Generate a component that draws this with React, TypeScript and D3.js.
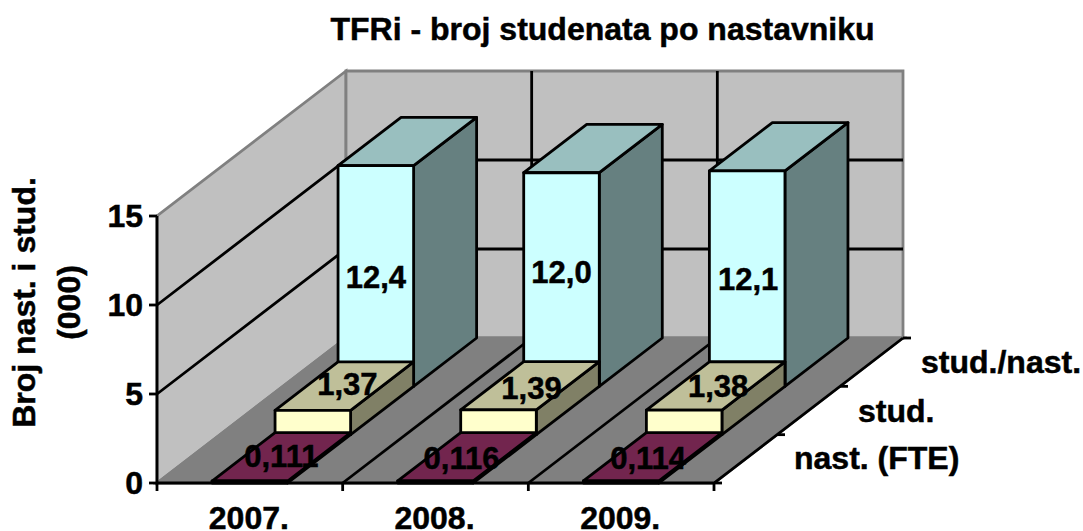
import React from "react";
import * as d3 from "d3";

const title = "TFRi - broj studenata po nastavniku";
const years = ["2007.", "2008.", "2009."];
const rows = ["nast. (FTE)", "stud.", "stud./nast."];
const nast = [0.111, 0.116, 0.114];
const stud = [1.37, 1.39, 1.38];
const ratio = [12.4, 12.0, 12.1];
const nastLabels = ["0,111", "0,116", "0,114"];
const studLabels = ["1,37", "1,39", "1,38"];
const ratioLabels = ["12,4", "12,0", "12,1"];
const yTicks = [0, 5, 10, 15];
const yTitle = ["Broj nast. i stud.", "(000)"];

const seriesVals = [nast, stud, ratio];
const seriesLabels = [nastLabels, studLabels, ratioLabels];
const palette = [
  { front: "#660033", top: "#72254e", side: "#4d0026" },
  { front: "#FFFFCC", top: "#BFBF99", side: "#808066" },
  { front: "#CCFFFF", top: "#99BFBF", side: "#668080" },
];
// label placement relative to the base-centre of each bar's front face
const labelShiftX = [[31.5, 26, 27], [34.5, 33, 34], [0, 0, 1]];
const labelShiftY = [[-16, -14, -14], [-40, -36, -38], [-98, -103, -96]];
const rowLabelX = [794, 858, 921];
const rowLabelY = [469, 422, 373];

const FONT = "'Liberation Sans', Arial, sans-serif";
const SW = 2.8;
const heavy = { stroke: "#000", strokeWidth: 0.5 };

const x0 = 157, x1 = 714, y0 = 483, y1 = 216;
const dx = 189, dy = -145;
const xScale = d3.scaleBand<string>().domain(years).range([x0, x1]).paddingInner(0.593).paddingOuter(0.2965);
const catScale = d3.scalePoint<string>().domain(years.concat("end")).range([x0, x1]);
const yScale = d3.scaleLinear().domain([0, 15]).range([y0, y1]);
const zScale = d3.scaleBand<string>().domain(rows).range([0, 1]);

const pt = (x: number, v: number, z: number): [number, number] => [x + z * dx, yScale(v) + z * dy];
const poly = (ps: [number, number][]) => ps.map((p) => p.join(",")).join(" ");

export default function App() {
  const bw = xScale.bandwidth();
  const catEdges = catScale.domain().map((c) => catScale(c) as number);
  const bars: React.ReactNode[] = [];
  const labels: React.ReactNode[] = [];
  for (let r = rows.length - 1; r >= 0; r--) {
    const z0 = zScale(rows[r]) as number;
    const z1 = z0 + zScale.bandwidth();
    years.forEach((yr, i) => {
      const xa = xScale(yr) as number;
      const xb = xa + bw;
      const v = seriesVals[r][i];
      const c = palette[r];
      bars.push(
        <g key={`${r}-${i}`} stroke="#000" strokeWidth={SW} strokeLinejoin="round">
          <polygon points={poly([pt(xb, 0, z0), pt(xb, 0, z1), pt(xb, v, z1), pt(xb, v, z0)])} fill={c.side} />
          <polygon points={poly([pt(xa, v, z0), pt(xb, v, z0), pt(xb, v, z1), pt(xa, v, z1)])} fill={c.top} />
          <polygon points={poly([pt(xa, 0, z0), pt(xb, 0, z0), pt(xb, v, z0), pt(xa, v, z0)])} fill={c.front} />
        </g>
      );
    });
  }
  seriesLabels.forEach((ls, r) =>
    ls.forEach((t, i) => {
      const xa = (xScale(years[i]) as number) + bw / 2;
      const [lx, ly] = pt(xa, 0, zScale(rows[r]) as number);
      labels.push(
        <text key={`l${r}-${i}`} x={lx + labelShiftX[r][i]} y={ly + labelShiftY[r][i]} textAnchor="middle" fontSize={31} fontWeight="bold" fontFamily={FONT} {...heavy}>{t}</text>
      );
    })
  );
  return (
    <svg width={1083} height={531} style={{ position: "absolute", left: 0, top: 0, background: "#fff" }}>
      <text x={602.5} y={40} textAnchor="middle" fontSize={32} fontWeight="bold" fontFamily={FONT} {...heavy}>{title}</text>
      {/* walls */}
      <polygon points={poly([pt(x0, 0, 0), pt(x0, 15, 0), pt(x0, 15, 1), pt(x0, 0, 1)])} fill="#C0C0C0" stroke="#808080" strokeWidth={SW} />
      <polygon points={poly([pt(x0, 0, 1), pt(x0, 15, 1), pt(x1, 15, 1), pt(x1, 0, 1)])} fill="#C0C0C0" stroke="#808080" strokeWidth={SW} />
      {/* floor */}
      <polygon points={poly([pt(x0, 0, 0), pt(x1, 0, 0), pt(x1, 0, 1), pt(x0, 0, 1)])} fill="#808080" stroke="#808080" strokeWidth={SW} />
      {/* gridlines */}
      {yTicks.filter((t) => t > 0 && t < 15).map((t) => (
        <polyline key={t} points={poly([pt(x0, t, 0), pt(x0, t, 1), pt(x1, t, 1)])} fill="none" stroke="#000" strokeWidth={SW} />
      ))}
      {catEdges.slice(1, -1).map((x) => (
        <line key={x} x1={pt(x, 0, 1)[0]} y1={pt(x, 0, 1)[1]} x2={pt(x, 15, 1)[0]} y2={pt(x, 15, 1)[1]} stroke="#000" strokeWidth={SW} />
      ))}
      {catEdges.slice(1, -1).map((x) => (
        <line key={`f${x}`} x1={pt(x, 0, 0)[0]} y1={pt(x, 0, 0)[1]} x2={pt(x, 0, 1)[0]} y2={pt(x, 0, 1)[1]} stroke="#000" strokeWidth={SW} />
      ))}
      {/* axes */}
      <polyline points={poly([pt(x0, 15, 0), pt(x0, 0, 0), pt(x1, 0, 0), pt(x1, 0, 1)])} fill="none" stroke="#000" strokeWidth={SW} />
      {yTicks.map((t) => (
        <g key={t}>
          <line x1={x0 - 8} x2={x0} y1={yScale(t)} y2={yScale(t)} stroke="#000" strokeWidth={SW} />
          <text x={x0 - 14} y={yScale(t) + 11} textAnchor="end" fontSize={32} fontWeight="bold" fontFamily={FONT} {...heavy}>{t}</text>
        </g>
      ))}
      {catEdges.map((x) => (
        <line key={`t${x}`} x1={x} x2={x} y1={y0} y2={y0 + 8} stroke="#000" strokeWidth={SW} />
      ))}
      {years.map((y) => (
        <text key={y} x={(xScale(y) as number) + bw / 2 - 1} y={528.5} textAnchor="middle" fontSize={32} fontWeight="bold" fontFamily={FONT} {...heavy}>{y}</text>
      ))}
      {[0, 1, 2, 3].map((k) => {
        const [tx, ty] = pt(x1, 0, k / 3);
        return <line key={k} x1={tx} x2={tx + 8} y1={ty} y2={ty} stroke="#000" strokeWidth={SW} />;
      })}
      {rows.map((r, i) => (
        <text key={r} x={rowLabelX[i]} y={rowLabelY[i]} fontSize={32} fontWeight="bold" fontFamily={FONT} {...heavy}>{r}</text>
      ))}
      {bars}
      {labels}
      <g transform="translate(0,302.5) rotate(-90)" fontSize={32} fontWeight="bold" fontFamily={FONT} textAnchor="middle" {...heavy}>
        <text x={0} y={35}>{yTitle[0]}</text>
        <text x={0} y={80}>{yTitle[1]}</text>
      </g>
    </svg>
  );
}
